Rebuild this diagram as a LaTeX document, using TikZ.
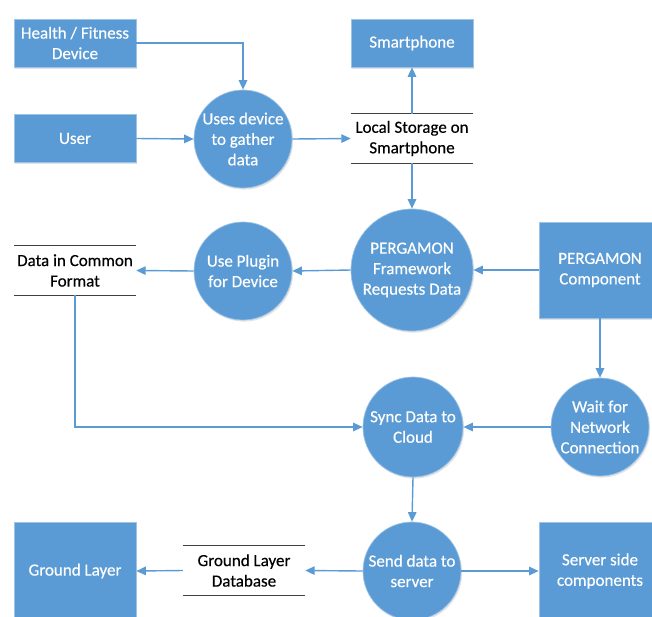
\documentclass[tikz,border=0pt]{standalone}
\usepackage{fontspec}
\setmainfont{Carlito}[FakeBold=0.4]
\usetikzlibrary{arrows.meta,shadows}
\definecolor{flowblue}{HTML}{5B9BD5}
\definecolor{storegray}{HTML}{404040}
\tikzset{
  every node/.style={font=\fontsize{17}{20.5}\selectfont, align=center},
  softshadow/.style={drop shadow={opacity=0.22, shadow xshift=1.2pt, shadow yshift=-1.6pt}},
  entity/.style={rectangle, fill=flowblue, draw=flowblue!60!white, line width=0.7pt,
    text=white, minimum width=122pt, inner sep=2pt, softshadow},
  process/.style={circle, fill=flowblue, draw=flowblue!60!white, line width=0.7pt,
    text=white, inner sep=0pt, softshadow},
  datastore/.style={rectangle, minimum width=122pt, minimum height=49pt, inner sep=0pt, text=black},
  storeline/.style={draw=storegray, line width=1.1pt},
  flow/.style={draw=flowblue, line width=1.4pt, -{Triangle[length=9.5pt,width=8.5pt]}},
}
\begin{document}
\begin{tikzpicture}[x=1pt,y=-1pt]
\useasboundingbox (0,0) rectangle (652,616);
\clip (0,0) rectangle (652,616);

% external entities
\node[entity, minimum height=48pt] (health) at (75,43) {Health / Fitness\\Device};
\node[entity, minimum height=48pt] (user) at (75,138.5) {User};
\node[entity, minimum height=48pt] (phone) at (412,43) {Smartphone};
\node[entity, minimum height=96pt] (comp) at (600,270) {PERGAMON\\Component};
\node[entity, minimum height=98pt] (server) at (600,571) {Server side\\components};
\node[entity, minimum height=98pt] (ground) at (75,571) {Ground Layer};

% processes
\node[process, minimum size=98pt] (gather) at (243,139) {Uses device\\to gather\\data};
\node[process, minimum size=122pt] (pfw) at (412,270) {PERGAMON\\Framework\\Requests Data};
\node[process, minimum size=98pt] (plugin) at (243,271) {Use Plugin\\for Device};
\node[process, minimum size=98pt] (wait) at (600,427) {Wait for\\Network\\Connection};
\node[process, minimum size=100pt] (sync) at (413,427) {Sync Data to\\Cloud};
\node[process, minimum size=98pt] (send) at (412,571) {Send data to\\server};

% data stores
\node[datastore] (local) at (412,138.5) {Local Storage on\\Smartphone};
\node[datastore] (common) at (75,270.5) {Data in Common\\Format};
\node[datastore] (gldb) at (244,570.5) {Ground Layer\\Database};
\foreach \s in {local,common,gldb}{
  \draw[storeline] (\s.north west) -- (\s.north east);
  \draw[storeline] (\s.south west) -- (\s.south east);
}

% data flows
\draw[flow] (health.east) -| (gather.north);
\draw[flow] (user.east) -- (gather.west);
\draw[flow] (gather.east) -- (local.west);
\draw[flow] (local.north) -- (phone.south);
\draw[flow] (local.south) -- (pfw.north);
\draw[flow] (comp.west) -- (pfw.east);
\draw[flow] (pfw.west) -- (plugin.east);
\draw[flow] (plugin.west) -- (common.east);
\draw[flow] (common.south) |- (sync.west);
\draw[flow] (comp.south) -- (wait.north);
\draw[flow] (wait.west) -- (sync.east);
\draw[flow] (sync.south) -- (send.north);
\draw[flow] (send.east) -- (server.west);
\draw[flow] (send.west) -- (gldb.east);
\draw[flow] (gldb.west) -- (ground.east);
\end{tikzpicture}
\end{document}
